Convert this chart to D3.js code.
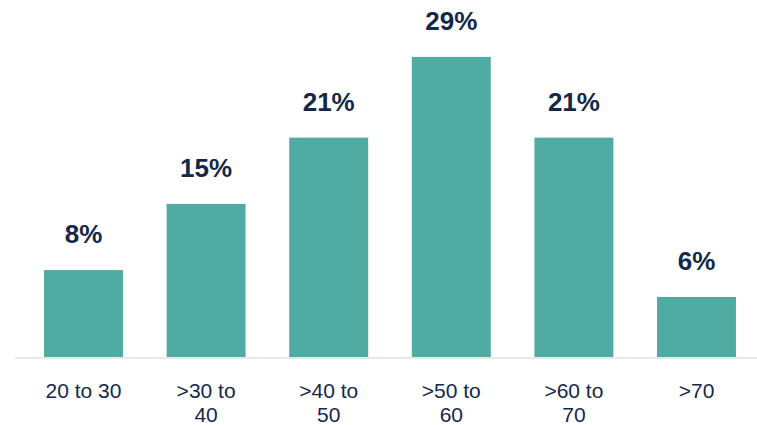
<!DOCTYPE html>
<html>
<head>
<meta charset="utf-8">
<script src="https://cdn.jsdelivr.net/npm/d3@7"></script>
<style>
  html, body { margin: 0; padding: 0; background: #ffffff; }
  svg { display: block; }
</style>
</head>
<body>
<svg id="chart" width="757" height="425"></svg>
<script>
const categories = ["20 to 30", ">30 to 40", ">40 to 50", ">50 to 60", ">60 to 70", ">70"];
const values = [8.4, 14.8, 21.2, 29.0, 21.2, 5.8];
const valueLabels = ["8%", "15%", "21%", "29%", "21%", "6%"];

const W = 757, H = 425;
const baseY = 357;
const svg = d3.select("#chart");

const x = d3.scaleBand()
  .domain(categories)
  .range([22.2, 757.8])
  .paddingInner(0.356)
  .paddingOuter(0.178);

const y = d3.scaleLinear()
  .domain([0, 34.5])
  .range([baseY, 0]);

const data = categories.map((c, i) => ({ c, v: values[i], label: valueLabels[i] }));

// bars
svg.append("g").selectAll("rect")
  .data(data)
  .join("rect")
  .attr("x", d => x(d.c))
  .attr("y", d => y(d.v))
  .attr("width", x.bandwidth())
  .attr("height", d => y(0) - y(d.v))
  .attr("fill", "#50ACA2");

// baseline
svg.append("line")
  .attr("x1", 15).attr("x2", 757)
  .attr("y1", baseY + 1).attr("y2", baseY + 1)
  .attr("stroke", "#E8E8E8")
  .attr("stroke-width", 2);

// value labels
svg.append("g").selectAll("text")
  .data(data)
  .join("text")
  .attr("x", d => x(d.c) + x.bandwidth() / 2)
  .attr("y", d => y(d.v) - 27)
  .attr("text-anchor", "middle")
  .attr("font-family", "Liberation Sans, Arial, sans-serif")
  .attr("font-weight", "bold")
  .attr("font-size", "26px")
  .attr("fill", "#14284B")
  .text(d => d.label);

// x axis labels with wrapping
const axis = d3.axisBottom(x).tickSize(0).tickPadding(0);
const gAxis = svg.append("g")
  .attr("transform", `translate(0,${baseY})`)
  .call(axis);
gAxis.select(".domain").remove();
gAxis.selectAll(".tick text")
  .attr("font-family", "Liberation Sans, Arial, sans-serif")
  .attr("font-size", "21px")
  .attr("fill", "#14284B")
  .each(function() {
    const t = d3.select(this);
    const words = t.text().split(" ");
    const maxW = 85;
    t.text(null);
    let line = [];
    let lineNo = 0;
    let tspan = t.append("tspan").attr("x", 0).attr("y", 41);
    words.forEach(w => {
      line.push(w);
      tspan.text(line.join(" "));
      if (tspan.node().getComputedTextLength() > maxW && line.length > 1) {
        line.pop();
        tspan.text(line.join(" "));
        line = [w];
        lineNo++;
        tspan = t.append("tspan").attr("x", 0).attr("y", 41 + lineNo * 24).text(w);
      }
    });
    t.attr("dy", null);
    t.selectAll("tspan").attr("dy", null);
  });
</script>
</body>
</html>
